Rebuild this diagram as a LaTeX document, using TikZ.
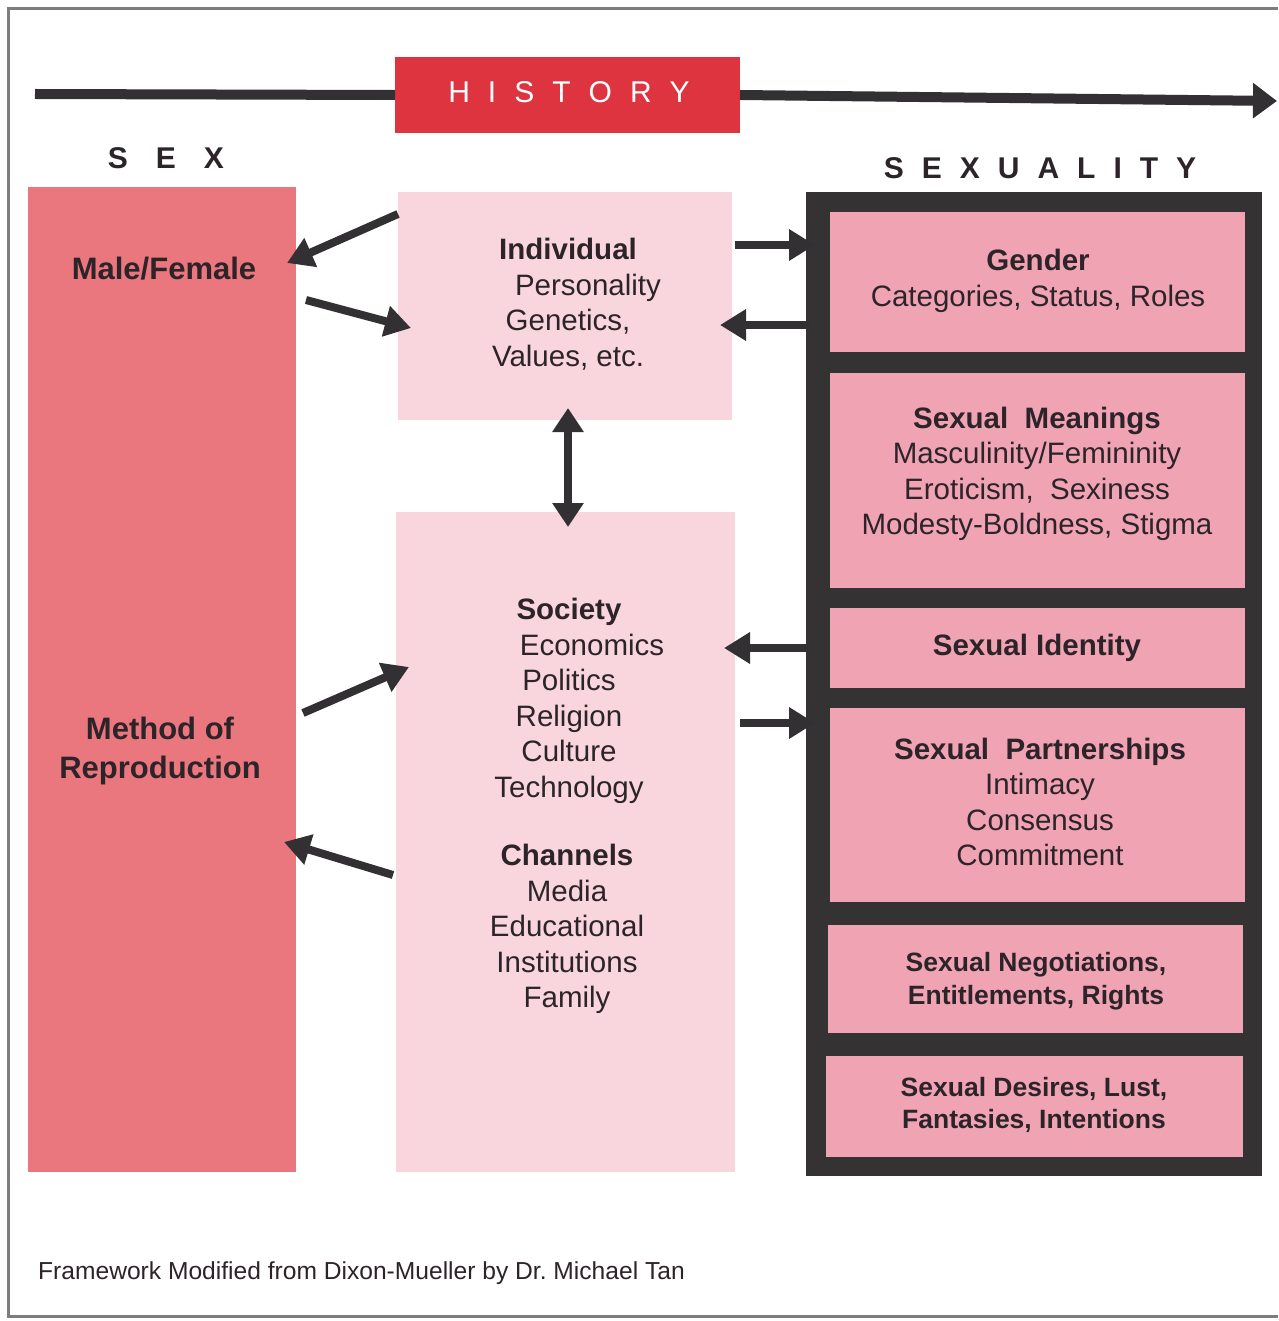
\documentclass[tikz,border=0pt]{standalone}
\usepackage{fontspec}
\setmainfont{Liberation Sans}
\usetikzlibrary{arrows.meta}

\definecolor{histred}{RGB}{221,52,64}
\definecolor{sexpink}{RGB}{234,118,126}
\definecolor{midpink}{RGB}{249,214,222}
\definecolor{rowpink}{RGB}{240,163,178}
\definecolor{framegray}{RGB}{52,50,51}
\definecolor{inkgray}{RGB}{50,48,50}
\definecolor{textdark}{RGB}{45,36,42}
\definecolor{edgegray}{RGB}{125,125,125}

\newcommand{\bodyfont}{\fontsize{29.5}{35.5}\selectfont}
\newcommand{\smallrowfont}{\fontsize{26.5}{32.5}\selectfont}

\begin{document}
\begin{tikzpicture}[x=1pt,y=-1pt,
  panel/.style={draw=none, inner sep=0pt, outer sep=0pt, rectangle},
  label/.style={inner sep=0pt, outer sep=0pt, align=center, text=textdark, font=\bodyfont},
  conn/.style={line width=8pt, draw=inkgray, -{Triangle[length=26pt,width=30pt]}},
  both/.style={line width=8pt, draw=inkgray, {Triangle[length=24pt,width=30pt]}-{Triangle[length=24pt,width=30pt]}},
  timeline/.style={line width=10pt, draw=inkgray}
]
% page and outer rule
\fill[white] (0,0) rectangle (1278,1321);
\useasboundingbox (0,0) rectangle (1278,1321);
\draw[edgegray, line width=3pt] (1278,9) -- (8,9) -- (8,1316) -- (1278,1316);

% time line with the HISTORY banner
\coordinate (tlstart) at (35,94);
\coordinate (tlend) at (1277,101);
\node[panel, fill=histred, minimum width=345, minimum height=76] (hist) at (567.5,95) {};
\draw[timeline] (tlstart) -- (hist.west);
\draw[timeline, -{Triangle[length=24pt,width=34pt]}] (hist.east) -- (tlend);
\node[inner sep=0pt, text=white, font=\fontsize{30}{36}\selectfont] (histtext) at (569,92)
  {H\kern18pt I\kern18pt S\kern18pt T\kern18pt O\kern18pt R\kern18pt Y};

% column headings
\node[inner sep=0pt, text=textdark, font=\bfseries\fontsize{30}{36}\selectfont] (sexhead) at (166,158)
  {S\kern28pt E\kern28pt X};
\node[inner sep=0pt, text=textdark, font=\bfseries\fontsize{30}{36}\selectfont] (sexualityhead) at (1040,168)
  {S\kern18pt E\kern18pt X\kern18pt U\kern18pt A\kern18pt L\kern18pt I\kern18pt T\kern18pt Y};

% SEX column
\node[panel, fill=sexpink, minimum width=268, minimum height=985] (sex) at (162,679.5) {};
\node[label, font=\bfseries\fontsize{31}{39}\selectfont] (malefemale) at (164,269) {Male/Female};
\node[label, font=\bfseries\fontsize{31}{39}\selectfont] (method) at (160,751) {Method of\\Reproduction};

% middle column
\node[panel, fill=midpink, minimum width=334, minimum height=228] (indiv) at (565,306) {};
\node[panel, fill=midpink, minimum width=339, minimum height=660] (soc) at (565.5,842) {};

\node[label] (indivtext) at (568,304)
  {\textbf{Individual}\\\hspace*{40pt}Personality\\Genetics,\\Values, etc.};
\node[label] (soctext) at (569,701)
  {\textbf{Society}\\\hspace*{46pt}Economics\\Politics\\Religion\\Culture\\Technology};
\node[label] (chantext) at (567,929)
  {\textbf{Channels}\\Media\\Educational\\Institutions\\Family};

% SEXUALITY column: dark frame holding the rows
\node[panel, fill=framegray, minimum width=456, minimum height=984] (frame) at (1034,684) {};
\node[panel, fill=rowpink, minimum width=415, minimum height=140] (gender) at (1037.5,282) {};
\node[panel, fill=rowpink, minimum width=415, minimum height=215] (meanings) at (1037.5,480.5) {};
\node[panel, fill=rowpink, minimum width=415, minimum height=80] (identity) at (1037.5,648) {};
\node[panel, fill=rowpink, minimum width=415, minimum height=194] (partner) at (1037.5,805) {};
\node[panel, fill=rowpink, minimum width=415, minimum height=108] (negot) at (1035.5,979) {};
\node[panel, fill=rowpink, minimum width=417, minimum height=101] (desires) at (1034.5,1106.5) {};

\node[label] (gendertext) at (1038,281) {\textbf{Gender}\\Categories, Status, Roles};
\node[label] (meaningstext) at (1037,474)
  {\textbf{Sexual\ \ Meanings}\\Masculinity/Femininity\\Eroticism,\ \ Sexiness\\Modesty-Boldness, Stigma};
\node[label] (identitytext) at (1037,648) {\textbf{Sexual\ Identity}};
\node[label] (partnertext) at (1040,802)
  {\textbf{Sexual\ \ Partnerships}\\Intimacy\\Consensus\\Commitment};
\node[label, font=\bfseries\smallrowfont] (negottext) at (1036,981)
  {Sexual\ Negotiations,\\Entitlements, Rights};
\node[label, font=\bfseries\smallrowfont] (desirestext) at (1034,1105)
  {Sexual Desires, Lust,\\Fantasies, Intentions};

% arrow end points
\coordinate (iTOs-a) at (398,214);  \coordinate (iTOs-b) at (287,263);
\coordinate (sTOi-a) at (306,300);  \coordinate (sTOi-b) at (411,328);
\coordinate (iTOg-a) at (735,245);  \coordinate (iTOg-b) at (815,245);
\coordinate (gTOi-a) at (810,325);  \coordinate (gTOi-b) at (720,325);
\coordinate (iso-a) at (568,408);   \coordinate (iso-b) at (568,527);
\coordinate (idTOs-a) at (808,648); \coordinate (idTOs-b) at (724,648);
\coordinate (sTOp-a) at (740,723);  \coordinate (sTOp-b) at (815,723);
\coordinate (xTOs-a) at (303,713);  \coordinate (xTOs-b) at (409,667);
\coordinate (sTOx-a) at (393,875);  \coordinate (sTOx-b) at (284,842);

\draw[conn] (iTOs-a) -- (iTOs-b);
\draw[conn] (sTOi-a) -- (sTOi-b);
\draw[conn] (iTOg-a) -- (iTOg-b);
\draw[conn] (gTOi-a) -- (gTOi-b);
\draw[both] (iso-a) -- (iso-b);
\draw[conn] (idTOs-a) -- (idTOs-b);
\draw[conn] (sTOp-a) -- (sTOp-b);
\draw[conn] (xTOs-a) -- (xTOs-b);
\draw[conn] (sTOx-a) -- (sTOx-b);

% source line
\node[inner sep=0pt, anchor=west, text=textdark, font=\fontsize{24.6}{29}\selectfont] (credit) at (38,1273)
  {Framework Modified from Dixon-Mueller by Dr.\ Michael Tan};
\end{tikzpicture}
\end{document}
